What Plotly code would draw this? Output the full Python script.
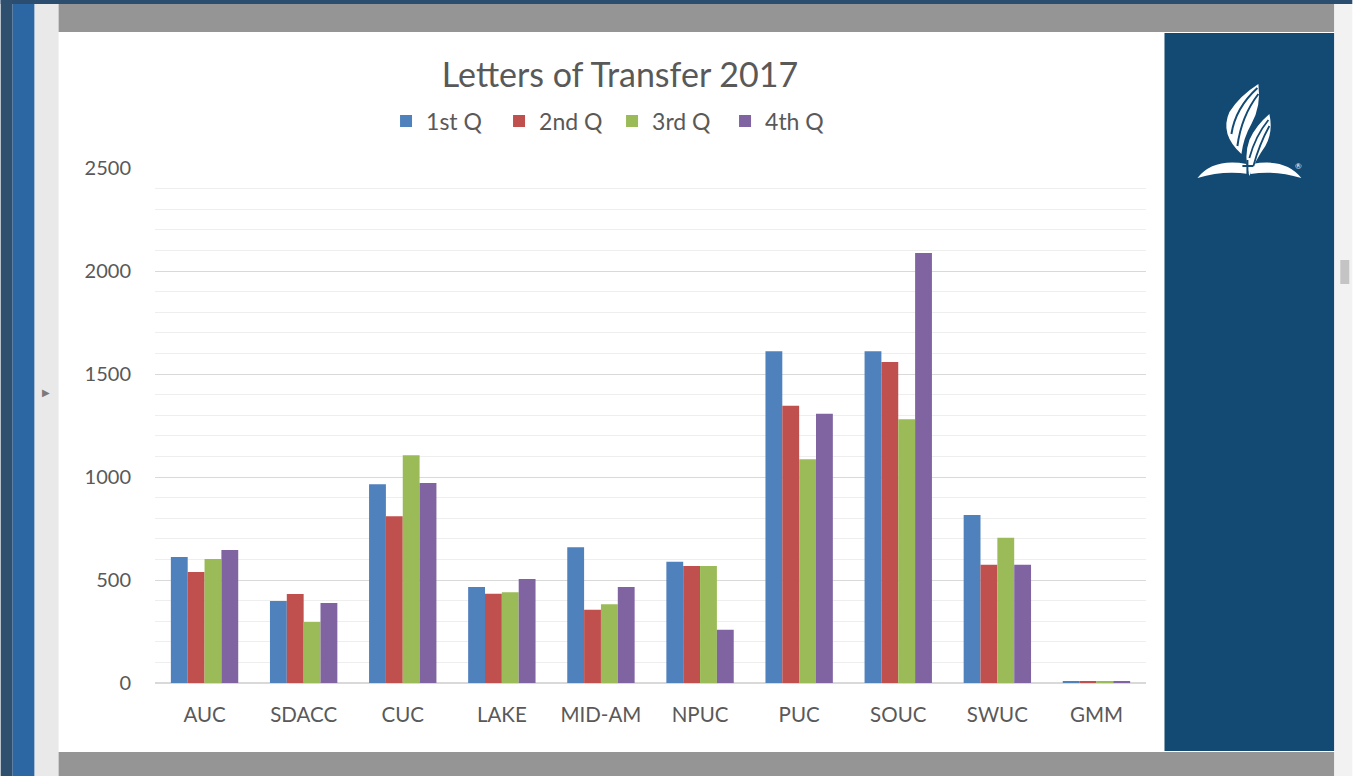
import plotly.graph_objects as go

categories = ["AUC", "SDACC", "CUC", "LAKE", "MID-AM", "NPUC", "PUC", "SOUC", "SWUC", "GMM"]
q1 = [612, 398, 965, 466, 659, 589, 1610, 1610, 816, 8]
q2 = [539, 432, 809, 433, 356, 568, 1346, 1558, 574, 6]
q3 = [602, 296, 1105, 440, 382, 568, 1086, 1280, 705, 8]
q4 = [646, 388, 971, 505, 466, 259, 1307, 2087, 574, 7]
series_names = ["1st Q", "2nd Q", "3rd Q", "4th Q"]
series_colors = ["#4f81bd", "#c0504d", "#9bbb59", "#8064a2"]
y_ticks = [0, 500, 1000, 1500, 2000, 2500]

W, H = 1353, 776
L, R, T, B = 154.5, 1146.5, 168, 683
PANEL = "#124a73"


def px(x):
    return (x - L) / (R - L)


def py(y):
    return (B - y) / (B - T)


def rect(x0, y0, x1, y1, color, layer="below"):
    return dict(type="rect", xref="paper", yref="paper", x0=px(x0), x1=px(x1),
                y0=py(y1), y1=py(y0), fillcolor=color, line=dict(width=0), layer=layer)


def path(points_str, fill=None, line_color=None, lw=0, layer="above"):
    toks = points_str.split()
    out = []
    for t in toks:
        if "," in t:
            a, b = t.split(",")
            out.append(f"{px(float(a)):.5f},{py(float(b)):.5f}")
        else:
            out.append(t)
    d = dict(type="path", xref="paper", yref="paper", path=" ".join(out), layer=layer,
             line=dict(width=lw, color=line_color or "rgba(0,0,0,0)"))
    if fill:
        d["fillcolor"] = fill
    return d


fig = go.Figure()
for name, vals, col in zip(series_names, [q1, q2, q3, q4], series_colors):
    fig.add_trace(go.Bar(x=categories, y=vals, name=name, marker=dict(color=col, line=dict(width=0))))

shapes = [
    rect(0, 0, W, 4, "#2b4d70"),
    rect(0, 0, 12, H, "#2e4f6d"),
    rect(12, 4, 34, H, "#2c66a3"),
    rect(34, 4, 58, H, "#e9e9e9"),
    rect(58, 4, 1335, 32, "#959595"),
    rect(58, 752, 1335, H, "#959595"),
    rect(1165, 33, 1335, 751, PANEL),
    rect(1335, 4, W, H, "#f2f2f2"),
    rect(1341, 260, 1350, 284, "#c4c4c4"),
    # logo: book pages
    path("M 1198,178 Q 1214,158 1247,164 L 1249,174 Q 1224,170 1198,178 Z", fill="white"),
    path("M 1302,178 Q 1286,158 1253,164 L 1251,174 Q 1276,170 1302,178 Z", fill="white"),
    # big flame body
    path("M 1242,154 Q 1220,134 1230,112 Q 1240,96 1259,84 Q 1262,106 1252,124 Q 1244,138 1242,154 Z", fill="white"),
    path("M 1232,134 Q 1236,108 1258,88", line_color=PANEL, lw=2),
    path("M 1238,146 Q 1242,116 1259,94", line_color=PANEL, lw=2),
    # small flame body
    path("M 1250,176 Q 1244,156 1250,140 Q 1256,126 1270,114 Q 1274,132 1266,146 Q 1256,160 1250,176 Z", fill="white"),
    path("M 1250,158 Q 1256,136 1269,120", line_color=PANEL, lw=1.8),
    path("M 1254,166 Q 1260,144 1270,126", line_color=PANEL, lw=1.8),
    # cross
    path("M 1248,160 L 1248,178", line_color=PANEL, lw=2),
    path("M 1243,166 L 1254,166", line_color=PANEL, lw=2),
]

annotations = [
    dict(x=px(1299), y=py(166), xref="paper", yref="paper", text="®", showarrow=False,
         font=dict(size=8, color="white"), xanchor="center", yanchor="middle"),
    dict(x=px(45), y=py(392), xref="paper", yref="paper", text="▶", showarrow=False,
         font=dict(size=10, color="#7a7a7a"), xanchor="center", yanchor="middle"),
]

font_family = "Lato, 'Open Sans', sans-serif"
fig.update_layout(
    width=W, height=H,
    margin=dict(l=L, r=W - R, t=T, b=H - B, pad=0),
    paper_bgcolor="white", plot_bgcolor="rgba(0,0,0,0)",
    barmode="group", bargap=0.32, bargroupgap=0,
    font=dict(family=font_family, color="#595959"),
    title=dict(text="Letters of Transfer 2017", x=620 / W, xanchor="center",
               y=1 - 75 / H, yanchor="middle", font=dict(size=34, color="#595959", family=font_family)),
    legend=dict(orientation="h", x=px(612), xanchor="center", y=py(121), yanchor="middle",
                font=dict(size=23, color="#595959"), bgcolor="rgba(0,0,0,0)",
                itemwidth=30, traceorder="normal", entrywidth=68),
    showlegend=True,
    shapes=shapes,
    annotations=annotations,
    xaxis=dict(showgrid=False, showline=True, linecolor="#d9d9d9", linewidth=1,
               ticks="", tickfont=dict(size=20.5, color="#595959"), ticklabelstandoff=13,
               fixedrange=True),
    yaxis=dict(range=[0, 2500], tickvals=y_ticks, showgrid=True, gridcolor="#d9d9d9", gridwidth=1,
               zeroline=True, zerolinecolor="#d9d9d9", showline=False,
               tickfont=dict(size=20, color="#595959"), ticklabelstandoff=23,
               minor=dict(dtick=100, showgrid=True, gridcolor="#eeeeee", gridwidth=1),
               fixedrange=True),
)

fig.write_html("out.html", config={"displayModeBar": False},
               post_script="document.body.style.margin='0';document.body.style.overflow='hidden';")
